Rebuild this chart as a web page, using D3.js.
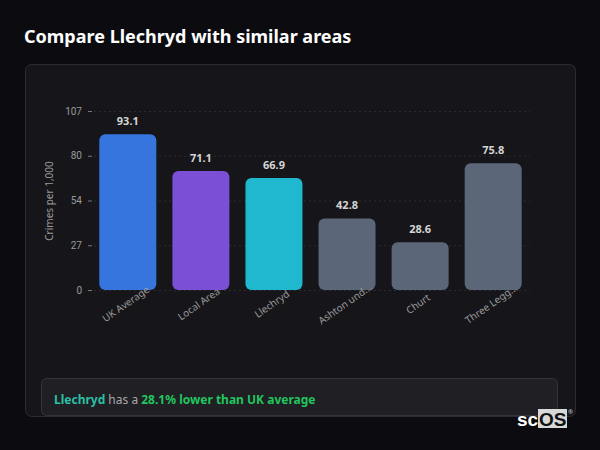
<!DOCTYPE html>
<html lang="en">
<head>
<meta charset="UTF-8">
<title>Compare Llechryd</title>
<script src="https://cdn.jsdelivr.net/npm/d3@7"></script>
<style>
    body { margin: 0; background: #0c0c10; font-family: "Noto Sans", sans-serif; }
    svg { display: block; }
</style>
</head>
<body>
<svg width="600" height="450"></svg>
<script>
    // data
    var areas = ["UK Average", "Local Area", "Llechryd", "Ashton und...", "Churt", "Three Legg..."];
    var rates = [93.1, 71.1, 66.9, 42.8, 28.6, 75.8];
    var barColors = ["#3575dd", "#7b50d6", "#1fb8cf", "#5c6679", "#5c6679", "#5c6679"];
    var yTicks = [0, 26.75, 53.5, 80.25, 107];
    var yTickLabels = ["0", "27", "54", "80", "107"];

    var svg = d3.select("svg");

    svg.append("text")
        .attr("x", 24).attr("y", 43)
        .attr("fill", "#ffffff")
        .attr("font-size", 18)
        .attr("font-weight", 700)
        .text("Compare Llechryd with similar areas");

    // card
    svg.append("rect")
        .attr("x", 25.5).attr("y", 64.5)
        .attr("width", 550).attr("height", 352)
        .attr("rx", 6)
        .attr("fill", "#16161a")
        .attr("stroke", "#2c2c32");

    var x = d3.scaleBand()
        .domain(areas)
        .range([92, 529])
        .paddingInner(0.22)
        .paddingOuter(0.1);

    var y = d3.scaleLinear()
        .domain([0, 107])
        .range([290, 111]);

    // grid
    svg.append("g")
        .selectAll("line")
        .data(yTicks)
        .enter().append("line")
        .attr("x1", 94).attr("x2", 530)
        .attr("y1", function (d) { return y(d) + 0.5; })
        .attr("y2", function (d) { return y(d) + 0.5; })
        .attr("stroke", "#2a2a30")
        .attr("stroke-dasharray", "2,3");

    // y axis
    var yAxis = svg.append("g")
        .attr("transform", "translate(92,0)")
        .call(d3.axisLeft(y).tickValues(yTicks).tickSize(4).tickPadding(6)
            .tickFormat(function (d, i) { return yTickLabels[i]; }));
    yAxis.select(".domain").remove();
    yAxis.selectAll(".tick line").attr("stroke", "#777");
    yAxis.selectAll(".tick text")
        .attr("fill", "#9a9a9a")
        .attr("font-size", 10)
        .attr("font-family", "Roboto, sans-serif");

    svg.append("text")
        .attr("transform", "translate(53,201) rotate(-90)")
        .attr("text-anchor", "middle")
        .attr("fill", "#9a9a9a")
        .attr("font-size", 10)
        .text("Crimes per 1,000");

    // bars
    svg.append("g")
        .selectAll("rect")
        .data(rates)
        .enter().append("rect")
        .attr("x", function (d, i) { return x(areas[i]); })
        .attr("y", function (d) { return y(d); })
        .attr("width", x.bandwidth())
        .attr("height", function (d) { return y(0) - y(d); })
        .attr("rx", 6)
        .attr("fill", function (d, i) { return barColors[i]; });

    // value labels
    svg.append("g")
        .selectAll("text")
        .data(rates)
        .enter().append("text")
        .attr("x", function (d, i) { return x(areas[i]) + x.bandwidth() / 2; })
        .attr("y", function (d) { return y(d) - 9; })
        .attr("text-anchor", "middle")
        .attr("fill", "#d4d4d4")
        .attr("font-size", 11)
        .attr("font-weight", 700)
        .text(function (d) { return d.toFixed(1); });

    // x labels
    svg.append("g")
        .selectAll("text")
        .data(areas)
        .enter().append("text")
        .attr("transform", function (d) {
            return "translate(" + (x(d) + x.bandwidth() / 2 - 2) + ",304) rotate(-35)";
        })
        .attr("text-anchor", "middle")
        .attr("dy", "0.35em")
        .attr("fill", "#9a9a9a")
        .attr("font-size", 10)
        .text(function (d) { return d; });

    // summary box
    svg.append("rect")
        .attr("x", 41.5).attr("y", 378.5)
        .attr("width", 516).attr("height", 37)
        .attr("rx", 5)
        .attr("fill", "#1f1f24")
        .attr("stroke", "#34343a");

    var summary = svg.append("text")
        .attr("x", 54).attr("y", 404)
        .attr("font-size", 12);
    summary.append("tspan").attr("fill", "#2bbfa4").attr("font-weight", 700).text("Llechryd");
    summary.append("tspan").attr("fill", "#a8a8a8").text(" has a ");
    summary.append("tspan").attr("fill", "#22c55e").attr("font-weight", 700).text("28.1% lower than UK average");

    // logo
    var logo = svg.append("g").attr("transform", "translate(517,409)");
    logo.append("rect").attr("x", 21).attr("y", 0).attr("width", 29).attr("height", 19).attr("fill", "#d8d8d8");
    logo.append("text").attr("x", 0).attr("y", 17).attr("font-family", "Liberation Sans, Arial, sans-serif")
        .attr("font-size", 19).attr("font-weight", 700).attr("fill", "#ffffff").text("sc");
    logo.append("text").attr("x", 22).attr("y", 17).attr("font-family", "Liberation Sans, Arial, sans-serif")
        .attr("font-size", 19).attr("font-weight", 700).attr("fill", "#111").text("OS");
    logo.append("text").attr("x", 51).attr("y", 5).attr("font-size", 6).attr("fill", "#ccc").text("®");
</script>
</body>
</html>
